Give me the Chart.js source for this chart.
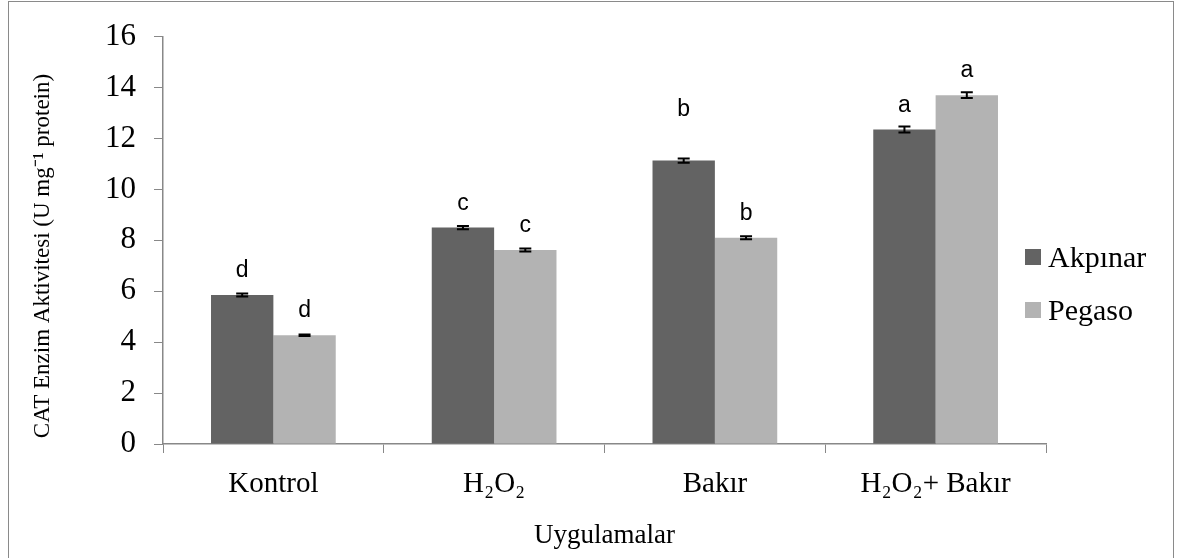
<!DOCTYPE html>
<html>
<head>
<meta charset="utf-8">
<script src="https://cdn.jsdelivr.net/npm/chart.js@4.4.0/dist/chart.umd.min.js"></script>
<style>
  html, body { margin: 0; padding: 0; background: #fff; }
  #wrap { position: relative; width: 1180px; height: 558px; overflow: hidden; }
  #frame { position: absolute; left: 8px; top: 1px; width: 1166px; height: 600px;
           border: 1px solid #8a8a8a; box-sizing: border-box; pointer-events: none; }
  canvas { display: block; }
</style>
</head>
<body>
<div id="wrap">
  <canvas id="barChart" width="1180" height="558"></canvas>
  <div id="frame"></div>
</div>
<script>
const categories = ['Kontrol', 'H₂O₂', 'Bakır', 'H₂O₂+ Bakır'];
const akpinarValues = [5.85, 8.5, 11.13, 12.35];
const pegasoValues = [4.27, 7.62, 8.1, 13.7];
const akpinarErrors = [0.06, 0.065, 0.08, 0.12];
const pegasoErrors = [0.03, 0.06, 0.06, 0.11];
const akpinarLetters = ['d', 'c', 'b', 'a'];
const pegasoLetters = ['d', 'c', 'b', 'a'];
const yTicks = [0, 2, 4, 6, 8, 10, 12, 14, 16];
const yTitle = 'CAT Enzim Aktivitesi (U mg⁻¹ protein)';

const DARK = '#636363';
const LIGHT = '#b3b3b3';
const AXIS = '#888888';
const SERIF = '"Liberation Serif", "Times New Roman", serif';

// error bars + significance letters over each bar
const barExtras = {
    id: 'barExtras',
    afterDatasetsDraw(chart, args, opts) {
        const { ctx } = chart;
        const y = chart.scales.y;
        chart.data.datasets.forEach((ds, i) => {
            const meta = chart.getDatasetMeta(i);
            meta.data.forEach((bar, j) => {
                const v = ds.data[j];
                const e = ds.errors[j];
                const top = y.getPixelForValue(v + e);
                const bot = y.getPixelForValue(v - e);
                ctx.save();
                ctx.strokeStyle = '#000';
                ctx.lineWidth = 2;
                ctx.beginPath();
                ctx.moveTo(bar.x, top); ctx.lineTo(bar.x, bot);
                ctx.moveTo(bar.x - 6, top); ctx.lineTo(bar.x + 6, top);
                ctx.moveTo(bar.x - 6, bot); ctx.lineTo(bar.x + 6, bot);
                ctx.stroke();

                const raise = (opts.raise[i] && opts.raise[i][j]) || 0;
                ctx.fillStyle = '#000';
                ctx.font = '23px "Liberation Sans", Arial, sans-serif';
                ctx.textAlign = 'center';
                ctx.textBaseline = 'alphabetic';
                ctx.fillText(ds.letters[j], bar.x, y.getPixelForValue(v) - 18 - raise);
                ctx.restore();
            });
        });
    }
};

// legend on the right + rotated y title, Excel style
const sideLegend = {
    id: 'sideLegend',
    afterDraw(chart) {
        const { ctx } = chart;
        ctx.save();
        chart.data.datasets.forEach((ds, i) => {
            const cy = 257 + i * 53;
            ctx.fillStyle = ds.backgroundColor;
            ctx.fillRect(1025, cy - 8, 16, 16);
            ctx.fillStyle = '#000';
            ctx.font = '30px ' + SERIF;
            ctx.textAlign = 'left';
            ctx.textBaseline = 'middle';
            ctx.fillText(ds.label, 1048, cy + 2);
        });

        ctx.translate(43, 256);
        ctx.rotate(-Math.PI / 2);
        ctx.font = '23px ' + SERIF;
        ctx.textAlign = 'center';
        ctx.textBaseline = 'middle';
        ctx.fillText(yTitle, 0, 0);
        ctx.restore();
    }
};

const ctx = document.getElementById('barChart').getContext('2d');
const myChart = new Chart(ctx, {
    type: 'bar',
    data: {
        labels: categories,
        datasets: [
            {
                label: 'Akpınar',
                data: akpinarValues,
                errors: akpinarErrors,
                letters: akpinarLetters,
                backgroundColor: DARK
            },
            {
                label: 'Pegaso',
                data: pegasoValues,
                errors: pegasoErrors,
                letters: pegasoLetters,
                backgroundColor: LIGHT
            }
        ]
    },
    options: {
        responsive: false,
        animation: false,
        layout: { padding: { top: 33, right: 134, left: 0, bottom: 0 } },
        datasets: { bar: { categoryPercentage: 0.565, barPercentage: 1 } },
        plugins: {
            legend: { display: false },
            tooltip: { enabled: false },
            barExtras: { raise: [[0, 0, 27, 0], [0, 0, 0, 0]] }
        },
        scales: {
            x: {
                grid: { drawOnChartArea: false, offset: true, tickLength: 9, color: AXIS },
                border: { color: AXIS, width: 1.5 },
                ticks: { color: '#000', font: { family: SERIF, size: 29 }, padding: 14 },
                title: {
                    display: true, text: 'Uygulamalar', color: '#000',
                    font: { family: SERIF, size: 27 }, padding: { top: 0, bottom: 6 }
                },
                afterFit: scale => { scale.height = 114; }
            },
            y: {
                min: 0,
                max: 16,
                afterBuildTicks: scale => { scale.ticks = yTicks.map(v => ({ value: v })); },
                grid: { drawOnChartArea: false, tickLength: 9, color: AXIS },
                border: { color: AXIS, width: 1.5 },
                ticks: { color: '#000', font: { family: SERIF, size: 31 }, padding: 18 },
                afterFit: scale => { scale.width = 163; }
            }
        }
    },
    plugins: [barExtras, sideLegend]
});
</script>
</body>
</html>
